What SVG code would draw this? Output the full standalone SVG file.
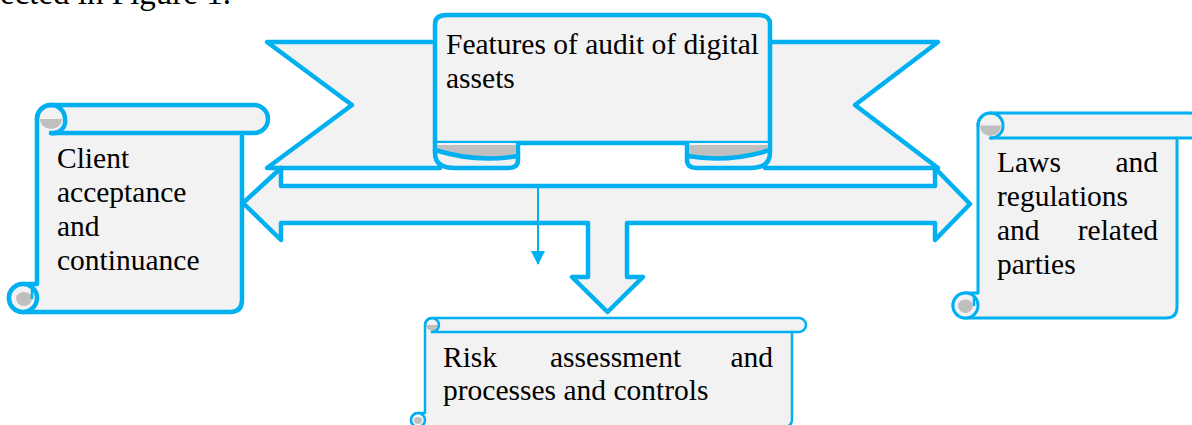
<svg xmlns="http://www.w3.org/2000/svg" width="1192" height="425" viewBox="0 0 1192 425">
<style>
.f{fill:#F2F2F2;stroke:#00B0F0;stroke-linejoin:round;stroke-linecap:round}
.s{fill:none;stroke:#00B0F0;stroke-linejoin:round;stroke-linecap:round}
.g{fill:#BFBFBF;stroke:none}
.w45{stroke-width:4.5}
.w3{stroke-width:3}
.w25{stroke-width:2.5}
.t{font-family:"Liberation Serif","Times New Roman",serif;font-size:29.5px;fill:#000}
</style>
<defs>
<marker id="ah" markerWidth="14" markerHeight="14" refX="13" refY="7" orient="auto" markerUnits="userSpaceOnUse" viewBox="0 0 14 14">
<path d="M0,0 L14,7 L0,14 Z" fill="#00B0F0"/>
</marker>
</defs>
<rect width="1192" height="425" fill="#FFFFFF"/>
<text class="t" x="0" y="4" style="font-size:33px">ected in Figure 1.</text>

<g id="banner">
<polygon class="f w45" points="267,42 440,42 440,168 267,168 352,105"/>
<polygon class="f w45" points="938,42 765,42 765,168 938,168 855,105"/>
<path class="f w45" d="M435,143 L435,24 Q435,15 447,15 L758,15 Q770,15 770,24 L770,143 Z"/>
<path class="f w45" d="M435,143 L435,153 Q435,168 455,168 L508,168 Q518,168 518,160 L518,143"/>
<path class="g" d="M437,145 L516,145 L516,156 Q476,162 437,150 Z"/>
<path class="s w45" d="M435,150 Q476,163 518,156"/>
<path class="f w45" d="M770,143 L770,153 Q770,168 750,168 L697,168 Q687,168 687,160 L687,143"/>
<path class="g" d="M768,145 L689,145 L689,156 Q729,162 768,150 Z"/>
<path class="s w45" d="M770,150 Q729,163 687,156"/>
<text class="t" x="446" y="54">Features of audit of digital</text>
<text class="t" x="446" y="88">assets</text>
</g>

<g id="connectors">
<path class="f w45" d="M243,203 L281,168 L281,186 L935,186 L935,168 L970,204 L935,240 L935,223 L627,223 L627,277 L643,277 L607.5,312 L572,277 L588,277 L588,223 L281,223 L281,240 Z"/>
<line x1="538" y1="187" x2="538" y2="264" stroke="#00B0F0" stroke-width="2" marker-end="url(#ah)"/>
</g>

<g id="client">
<path class="f w45" d="M51,105 L254,105 A14,14 0 0 1 254,133 L242,133 L242,300 Q242,312 230,312 L23,312 A14,14 0 0 1 23,284 L37,284 L37,119 A14,14 0 0 1 51,105 Z"/>
<path class="s w45" d="M51,133 L242,133"/>
<path class="g" d="M40,119 A11,10 0 0 0 62,119 Z"/>
<path class="s w45" d="M37,119 A14,14 0 0 1 65,119 A12,12 0 0 1 51,133"/>
<circle class="f w45" cx="23" cy="298" r="14"/>
<path class="g" d="M16,298 A8,8 0 0 0 32,298 A8,6 0 0 0 16,298 Z"/>
<path class="s w25" d="M32,290 L32,298"/>
<text class="t" x="57" y="168">Client</text>
<text class="t" x="57" y="202">acceptance</text>
<text class="t" x="57" y="236">and</text>
<text class="t" x="57" y="270">continuance</text>
</g>

<g id="laws">
<path class="f w3" d="M990.5,113 L1189.5,113 A12.5,12.5 0 0 1 1189.5,138 L1177,138 L1177,307 Q1177,318 1166,318 L965.5,318 A12.5,12.5 0 0 1 965.5,293 L978,293 L978,125.5 A12.5,12.5 0 0 1 990.5,113 Z"/>
<path class="s w3" d="M990.5,138 L1177,138"/>
<path class="g" d="M980,125.5 A10,10 0 0 0 1001,125.5 Z"/>
<path class="s w3" d="M978,125.5 A12.5,12.5 0 0 1 1003,125.5 A12,12 0 0 1 990.5,138"/>
<circle class="f w3" cx="965.5" cy="305.5" r="12.5"/>
<path class="g" d="M958,305.5 A7.5,7.5 0 0 0 973,305.5 A7.5,6 0 0 0 958,305.5 Z"/>
<path class="s w25" d="M974,298 L974,305"/>
<text class="t" x="997" y="172">Laws</text>
<text class="t" x="1158" y="172" text-anchor="end">and</text>
<text class="t" x="997" y="206">regulations</text>
<text class="t" x="997" y="240">and</text>
<text class="t" x="1158" y="240" text-anchor="end">related</text>
<text class="t" x="997" y="274">parties</text>
</g>

<g id="risk">
<path class="f w25" d="M432,318 L799,318 A7,7 0 0 1 799,332 L792,332 L792,419 Q792,427 784,427 L418,427 A7,7 0 0 1 418,413 L425,413 L425,325 A7,7 0 0 1 432,318 Z"/>
<path class="s w25" d="M432,332 L792,332"/>
<path class="g" d="M426,325 A6,5.5 0 0 0 438,325 Z"/>
<path class="s w25" d="M425,325 A7,7 0 0 1 439,325 A7,7 0 0 1 432,332"/>
<circle class="f w25" cx="418" cy="420" r="7"/>
<path class="g" d="M414,420 A4,4 0 0 0 422,420 A4,3 0 0 0 414,420 Z"/>
<text class="t" x="443" y="367">Risk</text>
<text class="t" x="550" y="367">assessment</text>
<text class="t" x="773" y="367" text-anchor="end">and</text>
<text class="t" x="443" y="400">processes and controls</text>
</g>
</svg>
